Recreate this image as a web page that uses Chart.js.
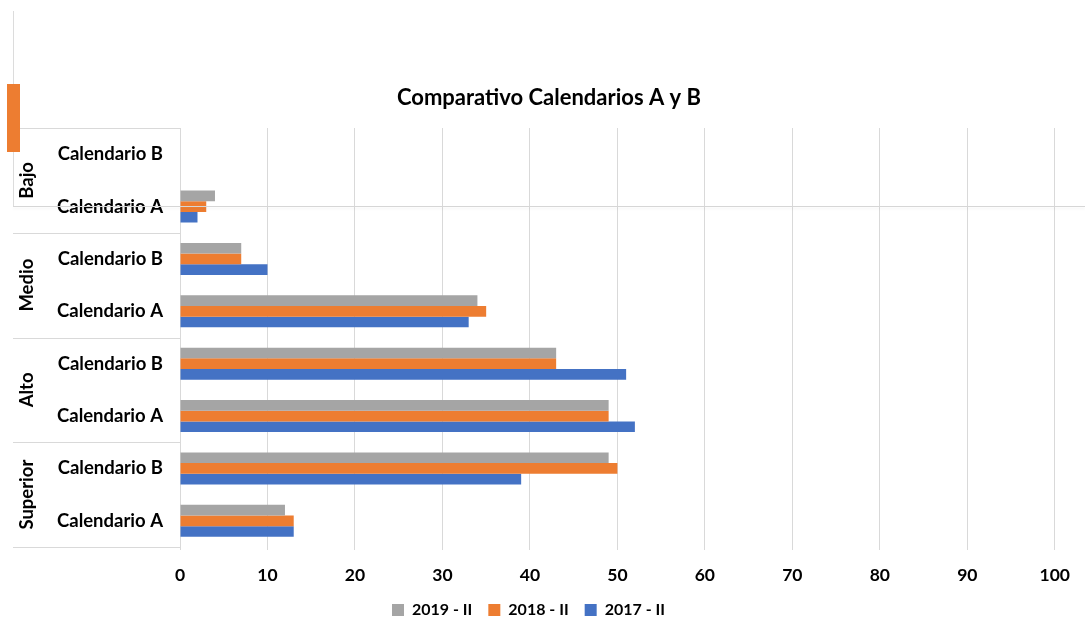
<!DOCTYPE html>
<html><head><meta charset="utf-8">
<script src="https://cdn.jsdelivr.net/npm/chart.js@4"></script>
<style>
html,body{margin:0;padding:0;background:#fff;overflow:hidden}
#wrap{position:relative;width:1085px;height:619px;overflow:hidden}
canvas{display:block}
.ov{position:absolute;pointer-events:none}
</style></head><body>
<div id="wrap"><canvas id="c" width="1085" height="628"></canvas>
<div class="ov" style="left:13px;top:11px;width:1px;height:195px;background:#dcdcdc"></div>
<div class="ov" style="left:13px;top:206px;width:1072px;height:1px;background:#d6d6d6;box-shadow:0 2px 3px rgba(0,0,0,0.07)"></div>
<div class="ov" style="left:7px;top:84px;width:13px;height:68px;background:#ED7D31"></div>
</div>
<script>
const title = 'Comparativo Calendarios A y B';
const groups = ['Bajo', 'Medio', 'Alto', 'Superior'];
const categories = ['Calendario B', 'Calendario A', 'Calendario B', 'Calendario A',
                    'Calendario B', 'Calendario A', 'Calendario B', 'Calendario A'];
const seriesNames = ['2019 - II', '2018 - II', '2017 - II'];
const values2019 = [0, 4, 7, 34, 43, 49, 49, 12];
const values2018 = [0, 3, 7, 35, 43, 49, 50, 13];
const values2017 = [0, 2, 10, 33, 51, 52, 39, 13];
const seriesColors = ['#A5A5A5', '#ED7D31', '#4472C4'];
const xMin = 0, xMax = 100, xStep = 10;

const FONT = 'Lato, "Open Sans", sans-serif';

const groupPlugin = {
  id: 'groupLabels',
  afterDraw(chart) {
    const ys = chart.scales.y;
    const ctx = chart.ctx;
    const band = (ys.bottom - ys.top) / categories.length;
    const per = categories.length / groups.length;
    ctx.save();
    ctx.strokeStyle = '#d9d9d9';
    ctx.lineWidth = 1;
    for (let g = 0; g <= groups.length; g++) {
      const yy = Math.round(ys.top + g * per * band) + 0.5;
      ctx.beginPath();
      ctx.moveTo(13, yy);
      ctx.lineTo(chart.chartArea.left, yy);
      ctx.stroke();
    }
    ctx.fillStyle = '#000';
    ctx.font = 'bold 18.5px ' + FONT;
    ctx.textAlign = 'center';
    ctx.textBaseline = 'middle';
    groups.forEach((g, i) => {
      const cy = ys.top + (i + 0.5) * per * band;
      ctx.save();
      ctx.translate(27, cy);
      ctx.rotate(-Math.PI / 2);
      ctx.fillText(g, 0, 0);
      ctx.restore();
    });
    // chart title
    ctx.font = 'bold 22px ' + FONT;
    ctx.textAlign = 'center';
    ctx.textBaseline = 'middle';
    ctx.fillText(title, 549, 98);
    ctx.restore();
  }
};

new Chart(document.getElementById('c'), {
  type: 'bar',
  data: {
    labels: categories,
    datasets: [
      { label: seriesNames[0], data: values2019, backgroundColor: seriesColors[0] },
      { label: seriesNames[1], data: values2018, backgroundColor: seriesColors[1] },
      { label: seriesNames[2], data: values2017, backgroundColor: seriesColors[2] }
    ]
  },
  options: {
    indexAxis: 'y',
    responsive: false,
    animation: false,
    events: [],
    datasets: { bar: { categoryPercentage: 0.61, barPercentage: 1.0 } },
    layout: { padding: { left: 0, right: 28, top: 128, bottom: 0 } },
    scales: {
      x: {
        min: xMin, max: xMax,
        ticks: { stepSize: xStep, color: '#000', font: { family: FONT, size: 17.5, weight: 'bold' }, padding: 15 },
        grid: { color: '#d9d9d9', drawTicks: true, tickLength: 3 },
        border: { display: false },
        afterFit(s) { s.height = 39; }
      },
      y: {
        ticks: { color: '#000', font: { family: FONT, size: 18.5, weight: 'bold' }, padding: 17 },
        grid: { display: false, drawTicks: false },
        border: { display: false },
        afterFit(s) { s.width = 180; }
      }
    },
    plugins: {
      title: { display: false },
      legend: {
        position: 'bottom',
        labels: { boxWidth: 12, boxHeight: 12, padding: 16, color: '#000',
                  font: { family: FONT, size: 16, weight: 'bold' } }
      },
      tooltip: { enabled: false }
    }
  },
  plugins: [groupPlugin]
});
</script>
</body></html>
